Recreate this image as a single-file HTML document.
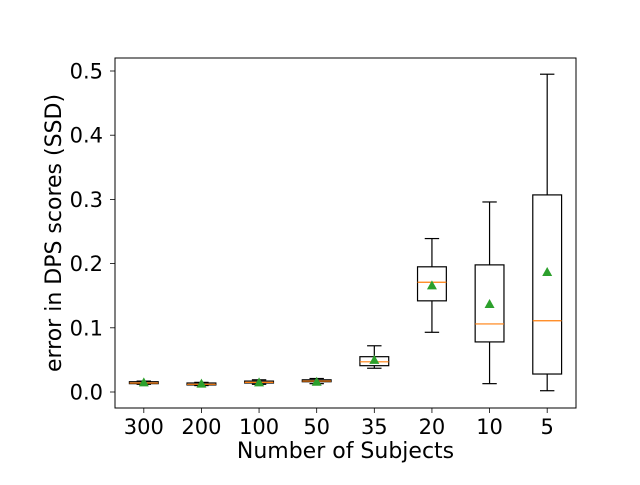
<!DOCTYPE html>
<html><head><meta charset="utf-8"><style>
body{margin:0;background:#fff}
text{font-family:"DejaVu Sans","Liberation Sans",sans-serif;fill:#000}
</style></head><body>
<svg id="chart" width="640" height="480" xmlns="http://www.w3.org/2000/svg">
<rect width="640" height="480" fill="#fff"/>
<g id="plot"></g>
<rect x="115" y="58" width="461" height="350" fill="none" stroke="#000" stroke-width="1"/>
<g id="axes"></g>
<text x="345.5" y="458" font-size="22" text-anchor="middle">Number of Subjects</text>
<text transform="translate(61,233) rotate(-90)" font-size="22" text-anchor="middle">error in DPS scores (SSD)</text>
</svg>
<script>
const categories = ["300","200","100","50","35","20","10","5"];
const whiskerLow = [0.012,0.010,0.012,0.013,0.037,0.093,0.013,0.002];
const q1 = [0.013,0.011,0.014,0.016,0.041,0.142,0.078,0.028];
const medians = [0.014,0.012,0.015,0.017,0.047,0.171,0.106,0.111];
const q3 = [0.016,0.014,0.017,0.019,0.055,0.195,0.198,0.307];
const whiskerHigh = [0.017,0.015,0.019,0.021,0.072,0.239,0.296,0.495];
const means = [0.015,0.013,0.015,0.016,0.050,0.166,0.137,0.187];
const yTicks = [0,0.1,0.2,0.3,0.4,0.5];
const yTickLabels = ["0.0","0.1","0.2","0.3","0.4","0.5"];

const L=115,R=576,T=58,B=408;
const y0=392, yScale=642;
const xs=i=>L+(i+0.5)*(R-L)/categories.length;
const ys=v=>y0-v*yScale;
const unit=(R-L)/categories.length;
const NS="http://www.w3.org/2000/svg";
const plot=document.getElementById('plot'), axes=document.getElementById('axes');
function mk(tag,attrs,parent){const e=document.createElementNS(NS,tag);for(const k in attrs)e.setAttribute(k,attrs[k]);parent.appendChild(e);return e;}
categories.forEach((c,i)=>{
  const x=xs(i), hw=unit*0.25, cw=unit*0.125;
  const g=mk('g',{},plot);
  
  
  mk('line',{x1:x,x2:x,y1:ys(q3[i]),y2:ys(whiskerHigh[i]),stroke:'#000','stroke-width':1.2},g);
  mk('line',{x1:x,x2:x,y1:ys(q1[i]),y2:ys(whiskerLow[i]),stroke:'#000','stroke-width':1.2},g);
  mk('line',{x1:x-cw,x2:x+cw,y1:ys(whiskerHigh[i]),y2:ys(whiskerHigh[i]),stroke:'#000','stroke-width':1.2},g);
  mk('line',{x1:x-cw,x2:x+cw,y1:ys(whiskerLow[i]),y2:ys(whiskerLow[i]),stroke:'#000','stroke-width':1.2},g);
  mk('rect',{x:x-hw,y:ys(q3[i]),width:2*hw,height:Math.max(ys(q1[i])-ys(q3[i]),0.5),fill:'none',stroke:'#000','stroke-width':1.2},g);
  mk('line',{x1:x-hw,x2:x+hw,y1:ys(medians[i]),y2:ys(medians[i]),stroke:'#ff7f0e','stroke-width':1.2},g);
  const my=ys(means[i]);
  const m=mk('polygon',{points:`${x},${my-5} ${x-5},${my+4} ${x+5},${my+4}`,fill:'#2ca02c'},g);
  
  
  mk('line',{x1:x,x2:x,y1:B,y2:B+5,stroke:'#000','stroke-width':0.8},axes);
  const t=mk('text',{x:x,y:B+26,'font-size':21,'text-anchor':'middle'},axes);
  
  
  t.textContent=c;
});
yTicks.forEach((v,i)=>{
  const y=ys(v);
  mk('line',{x1:L-5,x2:L,y1:y,y2:y,stroke:'#000','stroke-width':0.8},axes);
  const t=mk('text',{x:L-12,y:y+7.5,'font-size':21,'text-anchor':'end'},axes);
  
  
  t.textContent=yTickLabels[i];
});
</script>
</body></html>
